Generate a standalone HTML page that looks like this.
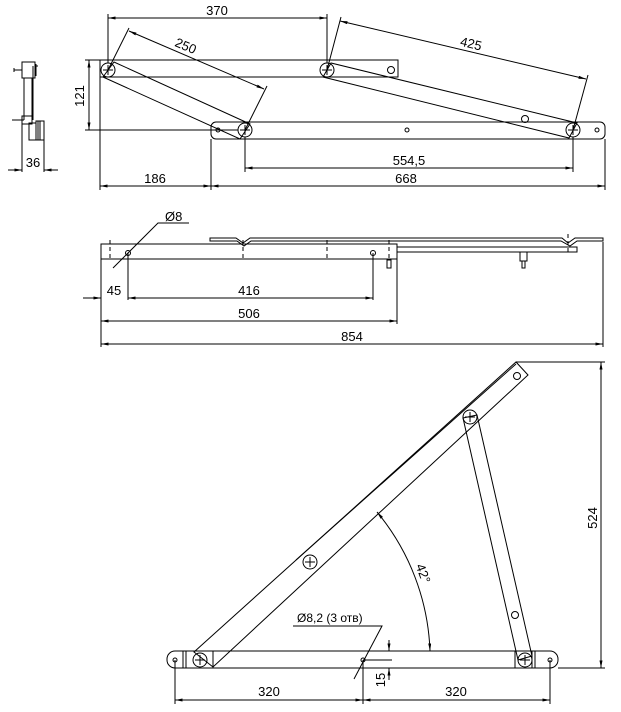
<!DOCTYPE html>
<html><head><meta charset="utf-8"><style>
html,body{margin:0;padding:0;background:#fff}
svg{display:block}
text{font-family:"Liberation Sans",sans-serif;font-size:13px;fill:#000}
</style></head><body>
<svg width="621" height="712" viewBox="0 0 621 712" xmlns="http://www.w3.org/2000/svg">
<defs>
<marker id="a" viewBox="0 0 10 4" refX="10" refY="2" markerWidth="8" markerHeight="3" orient="auto-start-reverse" markerUnits="userSpaceOnUse"><path d="M0,0 L10,2 L0,4z" fill="#000"/></marker>
</defs>
<g stroke="#000" stroke-width="1" fill="none">
<!-- side view -->
<rect x="22" y="62" width="13" height="16"/>
<line x1="24" y1="78" x2="24" y2="120"/><line x1="32" y1="78" x2="32" y2="120"/>
<line x1="33" y1="66" x2="33" y2="120"/>
<line x1="14" y1="70" x2="22" y2="70"/><line x1="14" y1="68" x2="14" y2="72"/>
<line x1="35" y1="66" x2="38" y2="66"/><line x1="36" y1="64" x2="36" y2="76"/>
<line x1="12" y1="120" x2="24" y2="120"/><rect x="22" y="116" width="10" height="8"/>
<rect x="29" y="123" width="7" height="17"/><rect x="36" y="121" width="8" height="19"/>
<line x1="38" y1="121" x2="38" y2="140"/><line x1="40" y1="121" x2="40" y2="140"/>
<line x1="22" y1="124" x2="22" y2="172"/><line x1="44" y1="140" x2="44" y2="172"/>
<line x1="8" y1="170" x2="22" y2="170" marker-end="url(#a)"/>
<line x1="58" y1="170" x2="44" y2="170" marker-end="url(#a)"/>

<!-- top view -->
<rect x="100" y="60" width="298" height="17"/>
<rect x="211" y="122" width="394" height="17" rx="5"/>
<polygon points="103,77 114,62 250,124 240,139"/>
<polygon points="323,77 331,63 577,123 569,138"/>
<circle cx="108" cy="70" r="7"/><circle cx="327" cy="70" r="7"/>
<circle cx="245" cy="130" r="7"/><circle cx="573" cy="130" r="7"/>
<path d="M103,70h10M108,65v10M322,70h10M327,65v10M240,130h10M245,125v10M568,130h10M573,125v10"/>
<circle cx="391" cy="70" r="3.5"/><circle cx="525" cy="119" r="3.5"/>
<circle cx="218" cy="130" r="2"/><circle cx="407" cy="130" r="2"/><circle cx="597" cy="130" r="2"/>
<!-- dims top -->
<line x1="108" y1="14" x2="108" y2="63"/><line x1="327" y1="14" x2="327" y2="63"/>
<line x1="108" y1="18" x2="327" y2="18" marker-start="url(#a)" marker-end="url(#a)"/>
<line x1="108" y1="70" x2="129" y2="28"/><line x1="245" y1="130" x2="267" y2="86"/>
<line x1="129" y1="31" x2="264" y2="89" marker-start="url(#a)" marker-end="url(#a)"/>
<line x1="327" y1="70" x2="341" y2="17"/><line x1="573" y1="130" x2="588" y2="75"/>
<line x1="340" y1="21" x2="586" y2="79" marker-start="url(#a)" marker-end="url(#a)"/>
<line x1="85" y1="60" x2="100" y2="60"/><line x1="85" y1="130" x2="238" y2="130"/>
<line x1="89" y1="60" x2="89" y2="130" marker-start="url(#a)" marker-end="url(#a)"/>
<line x1="245" y1="137" x2="245" y2="172"/><line x1="573" y1="137" x2="573" y2="172"/>
<line x1="245" y1="168" x2="573" y2="168" marker-start="url(#a)" marker-end="url(#a)"/>
<line x1="100" y1="77" x2="100" y2="190"/><line x1="211" y1="139" x2="211" y2="190"/><line x1="605" y1="139" x2="605" y2="190"/>
<line x1="100" y1="186" x2="211" y2="186" marker-start="url(#a)" marker-end="url(#a)"/>
<line x1="211" y1="186" x2="605" y2="186" marker-start="url(#a)" marker-end="url(#a)"/>

<!-- middle view -->
<rect x="101" y="244" width="296" height="15"/>
<path d="M210,238 H236 L243,243 L250,238 H562 L568,243 L575,238 H603 V241 H577 L570,246 L561,241 H251 L244,246 L237,241 H210 Z"/>
<rect x="397" y="247" width="180" height="5"/>
<path d="M110,240v18M243,240v18M327,240v18M389,240v18M568,234v20" stroke-dasharray="4,3"/>
<rect x="387" y="260" width="4" height="8"/><rect x="520" y="252" width="7" height="9"/><rect x="522" y="261" width="3" height="7"/>
<circle cx="128" cy="253" r="2.5"/><circle cx="373" cy="253" r="2.5"/>
<path d="M113,268 L158,223 H189"/>
<line x1="128" y1="253" x2="128" y2="300"/><line x1="373" y1="253" x2="373" y2="300"/>
<line x1="397" y1="259" x2="397" y2="324"/><line x1="101" y1="259" x2="101" y2="347"/><line x1="603" y1="242" x2="603" y2="347"/>
<line x1="83" y1="298" x2="101" y2="298" marker-end="url(#a)"/>
<line x1="128" y1="298" x2="373" y2="298" marker-start="url(#a)" marker-end="url(#a)"/>
<line x1="101" y1="321" x2="397" y2="321" marker-start="url(#a)" marker-end="url(#a)"/>
<line x1="101" y1="344" x2="603" y2="344" marker-start="url(#a)" marker-end="url(#a)"/>

<!-- bottom view -->
<rect x="167" y="651" width="391" height="17" rx="8"/>
<path d="M183,651v17M186,651v17M213,651v17M515,651v17M532,651v17M535,651v17"/>
<path d="M194,652 L516,362 L528,375 L213,667 Z"/>
<path d="M296,560 L516,364"/>
<polygon points="463,418 477,415 532,656 518,660"/>
<circle cx="200" cy="660" r="7"/><circle cx="310" cy="562" r="7"/><circle cx="470" cy="417" r="7"/><circle cx="525" cy="660" r="7"/>
<path d="M195,660h10M200,655v10M305,562h10M310,557v10M465,417h10M470,412v10M520,660h10M525,655v10"/>
<circle cx="517" cy="376" r="3.5"/><circle cx="515" cy="615" r="3.5"/>
<circle cx="175" cy="660" r="2"/><circle cx="363" cy="660" r="2"/><circle cx="550" cy="660" r="2"/>
<path d="M377,512 A231,231 0 0 1 430,651" marker-start="url(#a)" marker-end="url(#a)"/>
<path d="M293,626 H382 L354,679"/>
<line x1="389" y1="640" x2="389" y2="651" marker-end="url(#a)"/><line x1="389" y1="680" x2="389" y2="668" marker-end="url(#a)"/>
<line x1="363" y1="660" x2="392" y2="660"/><line x1="389" y1="668" x2="392" y2="668"/>
<line x1="175" y1="660" x2="175" y2="704"/><line x1="363" y1="660" x2="363" y2="704"/><line x1="550" y1="660" x2="550" y2="704"/>
<line x1="175" y1="700" x2="363" y2="700" marker-start="url(#a)" marker-end="url(#a)"/>
<line x1="363" y1="700" x2="550" y2="700" marker-start="url(#a)" marker-end="url(#a)"/>
<line x1="516" y1="362" x2="605" y2="362"/><line x1="558" y1="668" x2="605" y2="668"/>
<line x1="601" y1="362" x2="601" y2="668" marker-start="url(#a)" marker-end="url(#a)"/>
</g>
<!-- text -->
<text x="33" y="167" text-anchor="middle">36</text>
<text x="217" y="15" text-anchor="middle">370</text>
<text x="0" y="0" text-anchor="middle" transform="translate(184,50) rotate(23)">250</text>
<text x="0" y="0" text-anchor="middle" transform="translate(470,48) rotate(13.5)">425</text>
<text x="0" y="0" text-anchor="middle" transform="translate(84,96) rotate(-90)">121</text>
<text x="409" y="165" text-anchor="middle">554,5</text>
<text x="155" y="183" text-anchor="middle">186</text>
<text x="406" y="183" text-anchor="middle">668</text>
<text x="165" y="221">Ø8</text>
<text x="114" y="295" text-anchor="middle">45</text>
<text x="249" y="295" text-anchor="middle">416</text>
<text x="249" y="318" text-anchor="middle">506</text>
<text x="352" y="341" text-anchor="middle">854</text>
<text x="0" y="0" text-anchor="middle" transform="translate(419,575) rotate(70)">42°</text>
<text x="297" y="622" style="font-size:12px">Ø8,2 (3 отв)</text>
<text x="0" y="0" text-anchor="middle" transform="translate(385,680) rotate(-90)">15</text>
<text x="269" y="696" text-anchor="middle">320</text>
<text x="456" y="696" text-anchor="middle">320</text>
<text x="0" y="0" text-anchor="middle" transform="translate(597,518) rotate(-90)">524</text>
</svg>
</body></html>
